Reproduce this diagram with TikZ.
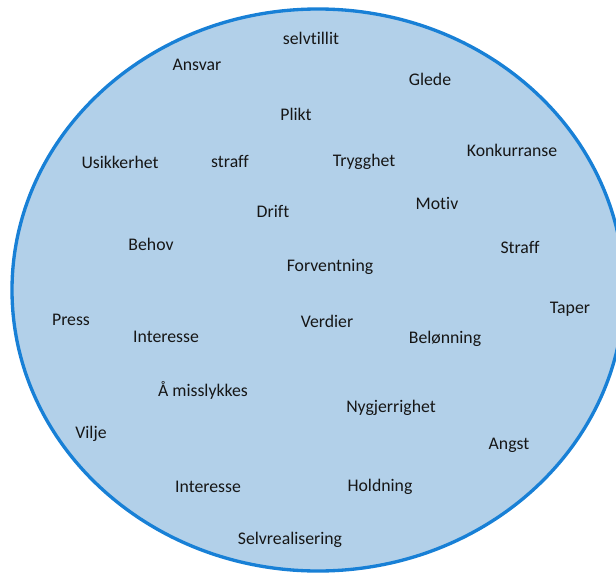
\documentclass[tikz,border=0pt]{standalone}
\usepackage{fontspec}
\setmainfont{Carlito}[Ligatures=NoCommon]
\usepackage{tikz}

\definecolor{bubblefill}{RGB}{178,208,233}
\definecolor{bubbleline}{RGB}{24,128,214}
\definecolor{wordink}{RGB}{22,22,22}

\begin{document}
\begin{tikzpicture}[x=0.75pt,y=0.75pt,yscale=-1,xscale=1,
    word/.style={anchor=base,inner sep=0.75pt,text=wordink,font=\fontsize{13.3}{15}\selectfont}]
\useasboundingbox (0,0) rectangle (616,574);

%Shape: Ellipse
\draw [color=bubbleline,fill=bubblefill,line width=2.5] (318,290) ellipse [x radius=306, y radius=281];

% Text Node
\node (selvtillit) [word] at (311,45) {selvtillit};
% Text Node
\node (ansvar) [word] at (197,71) {Ansvar};
% Text Node
\node (glede) [word] at (430,86) {Glede};
% Text Node
\node (plikt) [word] at (296,120) {Plikt};
% Text Node
\node (usikkerhet) [word] at (120,168) {Usikkerhet};
% Text Node
\node (straffa) [word] at (230,167) {straff};
% Text Node
\node (trygghet) [word] at (364,166) {Trygghet};
% Text Node
\node (konkurranse) [word] at (512,156) {Konkurranse};
% Text Node
\node (drift) [word] at (273,217) {Drift};
% Text Node
\node (motiv) [word] at (437,209) {Motiv};
% Text Node
\node (behov) [word] at (151,250) {Behov};
% Text Node
\node (straffb) [word] at (520,253) {Straff};
% Text Node
\node (forventning) [word] at (330,271) {Forventning};
% Text Node
\node (press) [word] at (71,325) {Press};
% Text Node
\node (taper) [word] at (570,313) {Taper};
% Text Node
\node (interessea) [word] at (166,342) {Interesse};
% Text Node
\node (verdier) [word] at (327,327) {Verdier};
% Text Node
\node (belonning) [word] at (445,343) {Belønning};
% Text Node
\node (misslykkes) [word] at (203,396) {Å misslykkes};
% Text Node
\node (nygjerrighet) [word] at (391,412) {Nygjerrighet};
% Text Node
\node (vilje) [word] at (91,438) {Vilje};
% Text Node
\node (angst) [word] at (509,449) {Angst};
% Text Node
\node (interesseb) [word] at (208,492) {Interesse};
% Text Node
\node (holdning) [word] at (380,491) {Holdning};
% Text Node
\node (selvrealisering) [word] at (290,544) {Selvrealisering};

\end{tikzpicture}
\end{document}
